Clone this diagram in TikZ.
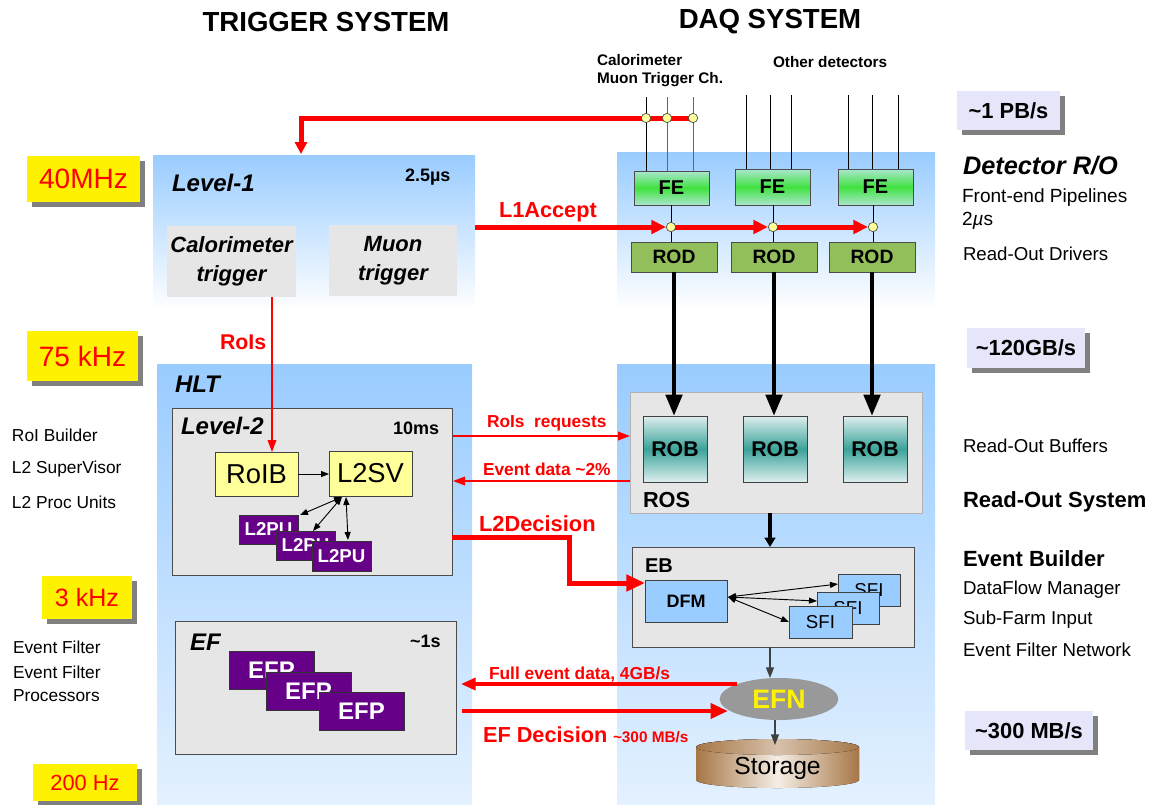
\documentclass[tikz,border=0pt]{standalone}
\usepackage{fontspec}
\setmainfont{Liberation Sans}
\usetikzlibrary{arrows.meta,shapes.geometric,shadows,calc}
\definecolor{lblue}{RGB}{153,204,255}
\definecolor{pblue}{RGB}{228,241,255}
\definecolor{bgray}{RGB}{230,230,230}
\definecolor{pyel}{RGB}{255,255,153}
\definecolor{purp}{RGB}{102,0,136}
\definecolor{rodg}{RGB}{146,190,92}
\definecolor{fetop}{RGB}{170,230,205}
\definecolor{femid}{RGB}{64,226,64}
\definecolor{robe}{RGB}{222,238,238}
\definecolor{robm}{RGB}{58,163,154}
\definecolor{dfmb}{RGB}{153,204,255}
\definecolor{efng}{RGB}{153,153,153}
\definecolor{brn}{RGB}{166,118,70}
\definecolor{brl}{RGB}{245,238,230}
\definecolor{lav}{RGB}{230,230,250}
\definecolor{shd}{RGB}{128,128,128}
\definecolor{myred}{RGB}{255,0,0}
\newcommand{\fsz}[1]{\fontsize{#1}{#1}\selectfont}
% box: style, name, x1, y1, x2, y2, text
\newcommand{\bx}[7]{\node[#1, minimum width={(#5-#3)*0.75pt}, minimum height={(#6-#4)*0.75pt}] (#2) at ({(#3+#5)/2},{(#4+#6)/2}) {#7};}
\begin{document}
\begin{tikzpicture}[x=0.75pt,y=-0.75pt,
  every node/.style={inner sep=0pt,outer sep=0pt},
  tb/.style={font=\fsz{#1}\bfseries},
  tr/.style={font=\fsz{#1}},
  tbi/.style={font=\fsz{#1}\bfseries\itshape},
  region/.style={top color=lblue,bottom color=white,draw=none},
  regionlong/.style={top color=lblue,bottom color=pblue,draw=none},
  graybox/.style={fill=bgray,draw=black!70,line width=0.6pt},
  rosbox/.style={fill=bgray,draw=black!30,line width=0.6pt},
  trig/.style={fill=bgray,align=center,font=\fontsize{16.5}{22}\selectfont\bfseries\itshape},
  febox/.style={top color=fetop,bottom color=fetop,middle color=femid,draw=black!70,line width=0.6pt,font=\fsz{15}\bfseries},
  rodbox/.style={fill=rodg,draw=black!70,line width=0.6pt,font=\fsz{14.5}\bfseries},
  robbox/.style={top color=robe,bottom color=robe,middle color=robm,draw=black!75,line width=0.6pt,font=\fsz{16}\bfseries},
  ybox/.style={fill=pyel,draw=black!75,line width=0.6pt,font=\fsz{20.5}},
  pubox/.style={fill=purp,draw=black!80,line width=0.6pt,text=white,font=\fsz{14}\bfseries},
  efpbox/.style={fill=purp,draw=black!80,line width=0.6pt,text=white,font=\fsz{18}\bfseries},
  dfmbox/.style={fill=dfmb,draw=black!75,line width=0.6pt,font=\fsz{13.5}\bfseries},
  sfibox/.style={fill=dfmb,draw=black!75,line width=0.6pt,font=\fsz{14}},
  rate/.style={fill=yellow,text=myred,general shadow={fill=shd,shadow xshift=3.5pt,shadow yshift=-3.5pt}},
  bw/.style={fill=lav,general shadow={fill=shd,shadow xshift=3.5pt,shadow yshift=-3.5pt},font=\fsz{16.4}\bfseries},
  dotn/.style={circle,fill=pyel,draw=black!70,line width=0.5pt,minimum size=7pt},
  wire/.style={line width=0.7pt},
  redthick/.style={draw=myred,line width=3.75pt},
  redthin/.style={draw=myred,line width=1pt,-{Triangle[length=9pt,width=6.5pt]}},
  bthick/.style={draw=black,line width=3.5pt,-{Triangle[length=16pt,width=12pt]}},
  sarrow/.style={draw=black,line width=0.7pt,-{Triangle[length=6pt,width=4.5pt]}},
  darrow/.style={draw=black,line width=0.7pt,{Triangle[length=6pt,width=4.5pt]}-{Triangle[length=6pt,width=4.5pt]}},
  garrow/.style={draw=black!75,line width=1pt,-{Triangle[length=8pt,width=6pt]}}
]
\useasboundingbox (0,0) rectangle (1149,804);

% ---------- background regions
\bx{region}{l1}{153}{155}{475}{310}{}
\bx{region}{det}{617}{152}{935}{310}{}
\bx{regionlong}{hlt}{157}{364}{472}{804}{}
\bx{regionlong}{daq}{617}{364}{935}{804}{}

% ---------- titles
\node[tb=20.7] (t1) at (326,22) {TRIGGER SYSTEM};
\node[tb=20.7] (t2) at (770,22) {DAQ SYSTEM};
\node[tb=11.5,anchor=west] (cal) at (597,60) {Calorimeter};
\node[tb=11.5,anchor=west] (mtc) at (597,80) {Muon Trigger Ch.};
\node[tb=11.5,anchor=west] (oth) at (773,62) {Other detectors};

% ---------- detector wires
\draw[wire,black] (646,97) -- (646,171);
\draw[wire,black!60] (667,97) -- (667,171);
\draw[wire,black!60] (693,97) -- (693,171);
\foreach \x in {746,770,791,848,872,898} \draw[wire] (\x,95) -- (\x,169);

% ---------- L1 accept to Level-1
\coordinate (d1) at (646,118);
\coordinate (d2) at (667,118);
\coordinate (d3) at (693,118);
\coordinate (l1in) at (301,154);
\draw[redthick,-{Triangle[length=9pt,width=9pt]}] (d3) -| (l1in);
\foreach \d in {d1,d2,d3} \node[dotn] at (\d) {};

% ---------- FE / ROD
\bx{febox}{fe1}{634}{171}{709}{205}{FE}
\bx{febox}{fe2}{735}{169}{810}{205}{FE}
\bx{febox}{fe3}{838}{169}{913}{205}{FE}
\bx{rodbox}{rod1}{631}{242}{717}{272}{ROD}
\bx{rodbox}{rod2}{731}{242}{817}{272}{ROD}
\bx{rodbox}{rod3}{829}{242}{915}{272}{ROD}
\coordinate (j1) at (671,227);
\coordinate (j2) at (773,227);
\coordinate (j3) at (873,227);
\draw[wire] (j1 |- fe1.south) -- (j1 |- rod1.north);
\draw[wire] (j2 |- fe2.south) -- (j2 |- rod2.north);
\draw[wire] (j3 |- fe3.south) -- (j3 |- rod3.north);
\draw[redthick,-{Triangle[length=11pt,width=10pt]}] (l1.east |- j1) -- ($(j1)+(-5,0)$);
\draw[redthick,-{Triangle[length=11pt,width=10pt]}] (j1) -- ($(j2)+(-5,0)$);
\draw[redthick,-{Triangle[length=11pt,width=10pt]}] (j2) -- ($(j3)+(-5,0)$);
\foreach \d in {j1,j2,j3} \node[dotn] at (\d) {};
\node[tb=16.3,text=myred,anchor=west] (l1acc) at (499,212) {L1Accept};

% ---------- Level-1 content
\node[tbi=18,anchor=west] (l1lab) at (172,183) {Level-1};
\node[tb=13.5,anchor=west] (l1t) at (405,177) {2.5µs};
\bx{trig}{caltrig}{167}{226}{296}{297}{Calorimeter\\trigger}
\bx{trig}{muontrig}{329}{225}{457}{296}{Muon\\trigger}

% ---------- rate boxes (left)
\bx{rate,tr=21}{r40}{27}{156}{140}{202}{40MHz}
\bx{rate,tr=21}{r75}{27}{331}{138}{381}{75 kHz}
\bx{rate,tr=18.8}{r3}{42}{576}{132}{619}{3 kHz}
\bx{rate,tr=16.4}{r200}{33}{764}{137}{801}{200 Hz}

% ---------- left labels
\node[tr=13,anchor=west] (lb1) at (12,435) {RoI Builder};
\node[tr=13,anchor=west] (lb2) at (12,469) {L2 SuperVisor};
\node[tr=13,anchor=west] (lb3) at (12,502) {L2 Proc Units};
\node[tr=13,anchor=west] (lb4) at (13,647) {Event Filter};
\node[tr=13,anchor=west] (lb5) at (13,672) {Event Filter};
\node[tr=13,anchor=west] (lb6) at (13,696) {Processors};

% ---------- HLT / Level-2
\node[tbi=18,anchor=west] (hltlab) at (175,384) {HLT};
\bx{graybox}{l2}{172}{408}{452}{575}{}
\node[tbi=18,anchor=west] (l2lab) at (181,426) {Level-2};
\node[tb=13.5,anchor=west] (l2t) at (393,428) {10ms};
\bx{ybox}{roib}{215}{452}{298}{496}{RoIB}
\bx{ybox}{l2sv}{329}{451}{412}{496}{L2SV}
\draw[sarrow] (roib) -- (roib -| l2sv.west);
\bx{pubox}{pu1}{239}{515}{298}{544}{L2PU}
\bx{pubox}{pu2}{276}{531}{335}{560}{L2PU}
\bx{pubox}{pu3}{312}{541}{371}{571}{L2PU}
\coordinate (sv1) at ($(l2sv.south west)+(13,1)$);
\coordinate (sv2) at ($(l2sv.south west)+(17,1)$);
\draw[darrow] (sv1) -- ($(pu1.north east)+(2,0)$);
\draw[darrow] (sv1) -- ($(pu2.north west)+(37,0)$);
\draw[darrow] (sv2) -- ($(pu3.north west)+(36,-1)$);
\coordinate (rb) at (272,0);
\draw[redthin] (rb |- caltrig.south) -- (rb |- roib.north);
\node[tb=16,text=myred,anchor=west] (roislab) at (220,342) {RoIs};

% ---------- ROS / ROB
\bx{rosbox}{ros}{630}{392}{922}{513}{}
\bx{robbox}{rob1}{643}{416}{707}{482}{ROB}
\bx{robbox}{rob2}{743}{416}{807}{482}{ROB}
\bx{robbox}{rob3}{843}{416}{907}{482}{ROB}
\node[tb=16.3,anchor=west] (roslab) at (643,500) {ROS};
\draw[bthick] (rod1.south) -- (rod1.south |- rob1.north);
\draw[bthick] (rod2.south) -- (rod2.south |- rob2.north);
\draw[bthick] (rod3.south) -- (rod3.south |- rob3.north);

% ---------- Level-2 <-> ROS
\coordinate (rq) at (0,436);
\coordinate (ed) at (0,481);
\draw[redthin] ($(l2.east |- rq)+(1,0)$) -- (ros.west |- rq);
\draw[redthin] (ros.west |- ed) -- ($(l2.east |- ed)+(1,0)$);
\node[tb=13,text=myred,anchor=west] (rqlab) at (487,423) {RoIs\ \ requests};
\node[tb=13,text=myred,anchor=west] (edlab) at (483,469) {Event data \textasciitilde2\%};

% ---------- EB
\bx{graybox}{eb}{632}{547}{914}{647}{}
\node[tb=15,anchor=west] (eblab) at (645,566) {EB};
\bx{dfmbox}{dfm}{645}{580}{727}{622}{DFM}
\bx{sfibox}{sfi1}{838}{574}{900}{606}{SFI}
\bx{sfibox}{sfi2}{817}{592}{879}{624}{SFI}
\bx{sfibox}{sfi3}{789}{606}{852}{638}{SFI}
\coordinate (dfo) at ($(dfm.east)+(1,-4)$);
\draw[darrow] (dfo) -- ($(sfi1.north west)+(0,10)$);
\draw[darrow] (dfo) -- ($(sfi2.north west)+(0,9)$);
\draw[darrow] (dfo) -- (sfi3.west);
\coordinate (ebin) at ($(eb.north west)+(138,0)$);
\draw[draw=black,line width=3pt,-{Triangle[length=7pt,width=8pt]}] (ebin |- ros.south) -- (ebin);

% L2Decision
\coordinate (l2d) at (0,537);
\coordinate (l2dk) at (569,583);
\draw[redthick,-{Triangle[length=14pt,width=12pt]}] (l2.east |- l2d) -| (l2dk) -- (dfm.west |- l2dk);
\node[tb=16.4,text=myred,anchor=west] (l2dlab) at (479,524) {L2Decision};

% ---------- EF
\bx{graybox}{ef}{175}{621}{456}{754}{}
\node[tbi=18,anchor=west] (eflab) at (190,642) {EF};
\node[tb=13.5,anchor=west] (eft) at (410,641) {\textasciitilde1s};
\bx{efpbox}{efp1}{229}{651}{314}{689}{EFP}
\bx{efpbox}{efp2}{266}{672}{351}{710}{EFP}
\bx{efpbox}{efp3}{319}{692}{404}{730}{EFP}

% ---------- EFN and storage
\node[ellipse, fill=efng, minimum width=89pt, minimum height=31.5pt, text=yellow, font=\fsz{20}\bfseries] (efn) at (779,699) {EFN};
\coordinate (ebout) at ($(eb.south west)+(138,0)$);
\draw[garrow] (ebout) -- (ebout |- efn.north);
\fill[left color=brn,right color=brn,middle color=brl] (696,747) -- (696,780) arc[start angle=180,end angle=0,x radius=81.5,y radius=8] -- (859,747) arc[start angle=0,end angle=-180,x radius=81.5,y radius=8] -- cycle;
\fill[left color=brn,right color=brn,middle color=brn!45] (777.5,747) ellipse [x radius=81.5, y radius=8];
\bx{tr=18.5}{stor}{696}{745}{859}{792}{Storage}
\draw[garrow] ($(efn.south)+(-4,0)$) -- ($(efn.south |- stor.north)+(-4,0)$);

% Full event data / EF decision
\draw[draw=myred,line width=2.5pt,-{Triangle[length=11pt,width=9pt]}] ($(efn.center)+(-42,-15)$) -- ($(ef.east |- 0,684)+(5,0)$);
\draw[draw=myred,line width=3.5pt,-{Triangle[length=13pt,width=11pt]}] ($(ef.east |- 0,711)+(6,0)$) -- ($(efn.center)+(-51,12)$);
\node[tb=13,text=myred,anchor=west] (fedlab) at (489,675) {Full event data, 4GB/s};
\node[tb=16.3,text=myred,anchor=west] (efdlab) at (483,735) {EF Decision};
\node[tb=11.5,text=myred,anchor=west] (efdr) at (613,737) {\textasciitilde300 MB/s};

% ---------- right column
\bx{bw}{bw1}{957}{91}{1060}{130}{\textasciitilde1 PB/s}
\node[tbi=19,anchor=west] (detro) at (963,166) {Detector R/O};
\node[tr=14.3,anchor=west] (fep) at (962,198) {Front-end Pipelines};
\node[tr=14.3,anchor=west] (fep2) at (962,221) {2\textit{µ}s};
\node[tr=14,anchor=west] (rodl) at (963,254) {Read-Out Drivers};
\bx{bw}{bw2}{967}{328}{1085}{368}{\textasciitilde120GB/s}
\node[tr=14,anchor=west] (robl) at (963,446) {Read-Out Buffers};
\node[tb=16.5,anchor=west] (rosl) at (963,502) {Read-Out System};
\node[tb=16.5,anchor=west] (ebl) at (963,559) {Event Builder};
\node[tr=14,anchor=west] (dfml) at (963,590) {DataFlow Manager};
\node[tr=14,anchor=west] (sfil) at (963,620) {Sub-Farm Input};
\node[tr=14,anchor=west] (efnl) at (963,650) {Event Filter Network};
\bx{bw}{bw3}{965}{711}{1093}{750}{\textasciitilde300 MB/s}
\end{tikzpicture}
\end{document}
